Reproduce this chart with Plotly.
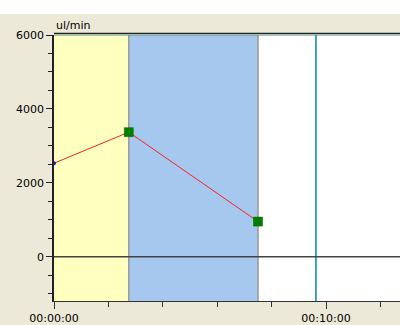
import plotly.graph_objects as go

# Data
times_min = [0.0, 2.75, 7.5]          # minutes
flow = [2530, 3370, 950]              # ul/min
phase_edges = [0.0, 2.75, 7.5]        # phase boundaries (minutes)
phase_colors = ["#FFFFC0", "#A6C8EE"]
cursor_min = 9.63
y_ticks = [0, 2000, 4000, 6000]
x_tickvals = [0, 10]
x_ticktext = ["00:00:00", "00:10:00"]

FONT = "DejaVu Sans"

fig = go.Figure()

# Phase bands
for i, c in enumerate(phase_colors):
    fig.add_vrect(x0=phase_edges[i], x1=phase_edges[i + 1], fillcolor=c, opacity=1,
                  line_width=0, layer="below")
# Band border lines
for xe in phase_edges[1:]:
    fig.add_vline(x=xe, line=dict(color="#999999", width=1.5), layer="below")
# Cursor line
fig.add_vline(x=cursor_min, line=dict(color="#008B8B", width=1.5), layer="below")
# Zero line
fig.add_hline(y=0, line=dict(color="#444444", width=1.5), layer="below")
# Top teal line
fig.add_hline(y=6000, line=dict(color="#20A0A0", width=1), layer="below")

# Line
fig.add_trace(go.Scatter(x=times_min, y=flow, mode="lines",
                         line=dict(color="#FF2020", width=1), hoverinfo="skip"))
# Markers
fig.add_trace(go.Scatter(x=times_min[:1], y=flow[:1], mode="markers",
                         marker=dict(color="#2020C0", size=4), cliponaxis=False))
fig.add_trace(go.Scatter(x=times_min[1:], y=flow[1:], mode="markers",
                         marker=dict(color="#008000", size=9, symbol="square",
                                     line=dict(color="#006000", width=0.5))))

# White top strip
fig.add_shape(type="rect", xref="paper", yref="paper", x0=-1, x1=2,
              y0=(325 - 14 - 24) / (325 - 35 - 24), y1=2,
              fillcolor="white", line_width=0, layer="below")

fig.add_annotation(text="ul/min", xref="paper", yref="paper", x=0.0, y=1.0,
                   xanchor="left", yanchor="bottom", yshift=1, showarrow=False,
                   font=dict(family=FONT, size=11, color="black"))

fig.update_layout(
    width=400, height=325,
    margin=dict(l=54, r=0, t=35, b=24),
    paper_bgcolor="#ECE9D8", plot_bgcolor="white",
    showlegend=False,
    font=dict(family=FONT, size=11, color="black"),
    xaxis=dict(range=[0, 12.72], tickvals=x_tickvals, ticktext=x_ticktext,
               ticks="outside", ticklen=7, tickcolor="#333333", showgrid=False,
               zeroline=False, showline=True, linecolor="#333333", linewidth=1,
               automargin=False,
               minor=dict(dtick=2, tick0=0, ticks="outside", ticklen=5,
                          tickcolor="#333333", showgrid=False)),
    yaxis=dict(range=[-1200, 6000], tickvals=y_ticks, ticks="outside", ticklen=6,
               tickcolor="#222222", showgrid=False, zeroline=False, showline=True,
               linecolor="#222222", linewidth=1.5, automargin=False,
               minor=dict(dtick=500, tick0=0, ticks="outside", ticklen=4,
                          tickcolor="#222222", showgrid=False)),
)

fig.add_shape(type="line", xref="paper", yref="paper", x0=0, x1=1, y0=1.006, y1=1.006,
              line=dict(color="#222222", width=1.5))

fig.write_html("out.html", config={"displayModeBar": False},
               post_script="document.body.style.margin='0';document.body.style.overflow='hidden';")
